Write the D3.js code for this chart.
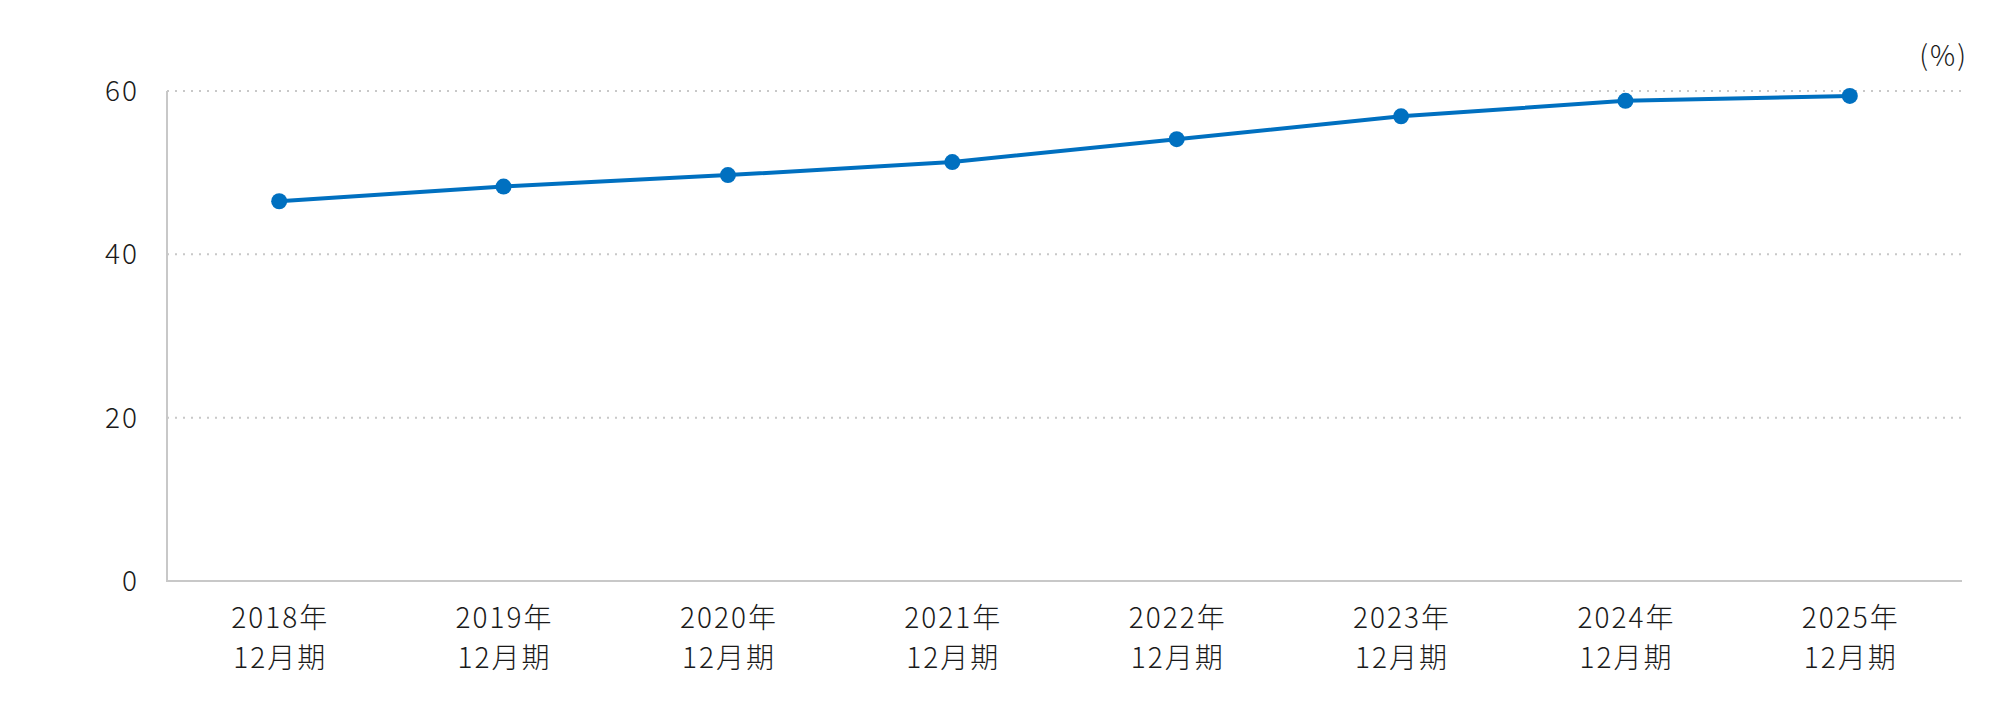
<!DOCTYPE html>
<html><head><meta charset="utf-8">
<script src="https://cdn.jsdelivr.net/npm/d3@7"></script>
<style>
html,body{margin:0;padding:0;background:#fff;}
svg text{font-family:"Noto Sans CJK JP","Noto Sans",sans-serif;fill:#1a1a1a;font-weight:300;letter-spacing:2px;}
</style></head>
<body><svg id="c" width="2000" height="714"></svg>
<script>
const categoriesLine1 = ["2018年","2019年","2020年","2021年","2022年","2023年","2024年","2025年"];
const categoriesLine2 = ["12月期","12月期","12月期","12月期","12月期","12月期","12月期","12月期"];
const values = [46.5, 48.3, 49.7, 51.3, 54.1, 56.9, 58.8, 59.4];
const yTicks = [0, 20, 40, 60];
const unitLabel = "(%)";

(function () {
const svg = d3.select("#c");
const mLeft = 167, mRight = 1962, mTop = 91, mBottom = 581;
const x = d3.scaleBand().domain(d3.range(values.length)).range([mLeft, mRight]);
const y = d3.scaleLinear().domain([0, 60]).range([mBottom, mTop]);

svg.append("g").selectAll("line").data(yTicks.filter(d => d > 0)).join("line")
  .attr("x1", mLeft).attr("x2", mRight)
  .attr("y1", d => y(d)).attr("y2", d => y(d))
  .attr("stroke", "#c8c8c8").attr("stroke-width", 2).attr("stroke-dasharray", "2,6");

svg.append("line").attr("x1", mLeft).attr("x2", mLeft).attr("y1", mTop).attr("y2", mBottom)
  .attr("stroke", "#c8c8c8").attr("stroke-width", 2);
svg.append("line").attr("x1", mLeft - 1).attr("x2", mRight).attr("y1", mBottom).attr("y2", mBottom)
  .attr("stroke", "#c8c8c8").attr("stroke-width", 2);

svg.append("g").selectAll("text").data(yTicks).join("text")
  .attr("x", 139).attr("y", d => y(d)).attr("dy", "0.36em")
  .attr("text-anchor", "end").attr("font-size", 28).text(d => d);

const xl = svg.append("g").selectAll("text").data(values.map((v, i) => i)).join("text")
  .attr("text-anchor", "middle").attr("font-size", 28);
xl.append("tspan").attr("x", i => x(i) + x.bandwidth() / 2 + 1).attr("y", 628).text(i => categoriesLine1[i]);
xl.append("tspan").attr("x", i => x(i) + x.bandwidth() / 2 + 1).attr("y", 668).text(i => categoriesLine2[i]);

svg.append("text").attr("x", 1968).attr("y", 66).attr("text-anchor", "end")
  .attr("font-size", 28).text(unitLabel);

const line = d3.line().x((d, i) => x(i) + x.bandwidth() / 2).y(d => y(d));
svg.append("path").datum(values).attr("d", line).attr("fill", "none")
  .attr("stroke", "#0070C0").attr("stroke-width", 4);
svg.append("g").selectAll("circle").data(values).join("circle")
  .attr("cx", (d, i) => x(i) + x.bandwidth() / 2).attr("cy", d => y(d)).attr("r", 8)
  .attr("fill", "#0070C0");
})();
</script></body></html>
